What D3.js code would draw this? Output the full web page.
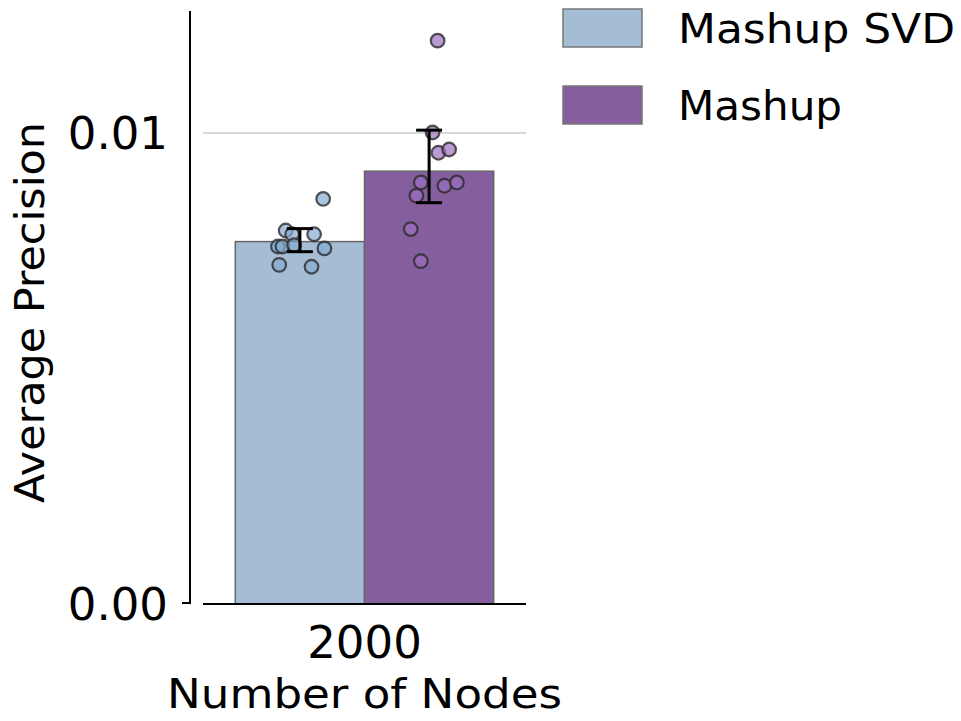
<!DOCTYPE html>
<html>
<head>
<meta charset="utf-8">
<script src="https://cdn.jsdelivr.net/npm/d3@7"></script>
<style>
  body { margin: 0; background: #fff; }
  text { font-family: "DejaVu Sans", sans-serif; fill: #000; }
</style>
</head>
<body>
<div id="chart"></div>
<script>
// data
const categories = ["2000"];
const seriesNames = ["Mashup SVD", "Mashup"];
const svdRuns = [0.00860, 0.00793, 0.00785, 0.00785, 0.00759, 0.00759, 0.00762, 0.00755, 0.00720, 0.00716];
const mashupRuns = [0.01196, 0.01001, 0.00958, 0.00965, 0.00895, 0.00888, 0.00895, 0.00867, 0.00796, 0.00728];
const svdJitter = [0.18, -0.11, -0.06, 0.11, -0.17, -0.135, -0.045, 0.19, -0.16, 0.09];
const mashupJitter = [0.066, 0.027, 0.072, 0.155, -0.064, 0.119, 0.215, -0.098, -0.142, -0.064];
const svdCI = [0.00748, 0.00797];
const mashupCI = [0.00852, 0.01006];
const yTicks = [0, 0.01];
const yTickLabels = ["0.00", "0.01"];

const colors = ["#a4bcd4", "#845e9d"];
const pointColors = ["#85abd1", "#9b6fc0"];

const width = 961, height = 721;
const svg = d3.select("#chart").append("svg")
    .attr("width", width)
    .attr("height", height);

const groups = [
    { name: seriesNames[0], runs: svdRuns, jitter: svdJitter, ci: svdCI, color: colors[0], pc: pointColors[0], labelLen: 277 },
    { name: seriesNames[1], runs: mashupRuns, jitter: mashupJitter, ci: mashupCI, color: colors[1], pc: pointColors[1], labelLen: 164 }
];

const y = d3.scaleLinear().domain([0, 0.01259]).range([604, 11]);
const x0 = d3.scaleBand().domain(categories).range([203, 526]).paddingInner(0.2).paddingOuter(0.1);
const x1 = d3.scaleBand().domain(seriesNames).range([0, x0.bandwidth()]);

// gridline at 0.01
svg.append("line")
    .attr("x1", 203).attr("x2", 526)
    .attr("y1", y(0.01)).attr("y2", y(0.01))
    .attr("stroke", "#cccccc").attr("stroke-width", 1.5);

const gx = x0(categories[0]);

// bars
svg.selectAll("rect.bar")
    .data(groups)
    .enter()
    .append("rect")
    .attr("class", "bar")
    .attr("x", d => gx + x1(d.name))
    .attr("y", d => y(d3.mean(d.runs)))
    .attr("width", x1.bandwidth())
    .attr("height", d => y(0) - y(d3.mean(d.runs)))
    .attr("fill", d => d.color)
    .attr("stroke", "#666")
    .attr("stroke-width", 1.5);

// strip points
groups.forEach(g => {
    const cx = gx + x1(g.name) + x1.bandwidth() / 2;
    svg.selectAll(null)
        .data(g.runs)
        .enter()
        .append("circle")
        .attr("cx", (d, i) => cx + g.jitter[i] * x1.bandwidth())
        .attr("cy", d => y(d))
        .attr("r", 6.8)
        .attr("fill", g.pc)
        .attr("fill-opacity", 0.7)
        .attr("stroke", "#2a2a2a")
        .attr("stroke-opacity", 0.8)
        .attr("stroke-width", 2.2);
});

// error bars
groups.forEach(g => {
    const cx = gx + x1(g.name) + x1.bandwidth() / 2;
    const eb = svg.append("g").attr("stroke", "#000").attr("stroke-width", 3);
    eb.append("line").attr("x1", cx).attr("x2", cx).attr("y1", y(g.ci[0])).attr("y2", y(g.ci[1]));
    g.ci.forEach(v => {
        eb.append("line").attr("x1", cx - 13).attr("x2", cx + 13).attr("y1", y(v)).attr("y2", y(v));
    });
});

// y axis spine
svg.append("line")
    .attr("x1", 190).attr("x2", 190)
    .attr("y1", y.range()[1]).attr("y2", y(0))
    .attr("stroke", "#000").attr("stroke-width", 2);
svg.append("line")
    .attr("x1", 182).attr("x2", 190)
    .attr("y1", y(0) - 1).attr("y2", y(0) - 1)
    .attr("stroke", "#000").attr("stroke-width", 2);

svg.selectAll("text.ytick")
    .data(yTicks)
    .enter()
    .append("text")
    .attr("class", "ytick")
    .attr("x", 168)
    .attr("y", d => y(d))
    .attr("dy", "0.36em")
    .attr("text-anchor", "end")
    .style("font-size", "45px")
    .text((d, i) => yTickLabels[i]);

// x axis line
svg.append("line")
    .attr("x1", 203).attr("x2", 526)
    .attr("y1", y(0)).attr("y2", y(0))
    .attr("stroke", "#000").attr("stroke-width", 2);

svg.selectAll("text.xtick")
    .data(categories)
    .enter()
    .append("text")
    .attr("class", "xtick")
    .attr("x", d => x0(d) + x0.bandwidth() / 2)
    .attr("y", 658)
    .attr("text-anchor", "middle")
    .style("font-size", "45px")
    .text(d => d);

// axis titles
svg.append("text")
    .attr("x", 167)
    .attr("y", 708)
    .attr("textLength", 395)
    .attr("lengthAdjust", "spacingAndGlyphs")
    .style("font-size", "40px")
    .text("Number of Nodes");

svg.append("text")
    .attr("transform", "translate(44,503) rotate(-90)")
    .attr("textLength", 381)
    .attr("lengthAdjust", "spacingAndGlyphs")
    .style("font-size", "40px")
    .text("Average Precision");

// legend
const legend = svg.selectAll("g.legend")
    .data(groups)
    .enter()
    .append("g")
    .attr("class", "legend")
    .attr("transform", (d, i) => "translate(563," + (9 + i * 77) + ")");

legend.append("rect")
    .attr("width", 79)
    .attr("height", 38)
    .attr("fill", d => d.color)
    .attr("stroke", "#777")
    .attr("stroke-width", 1.5);

legend.append("text")
    .attr("x", 115)
    .attr("y", 34)
    .attr("textLength", d => d.labelLen)
    .attr("lengthAdjust", "spacingAndGlyphs")
    .style("font-size", "40px")
    .text(d => d.name);
</script>
</body>
</html>
